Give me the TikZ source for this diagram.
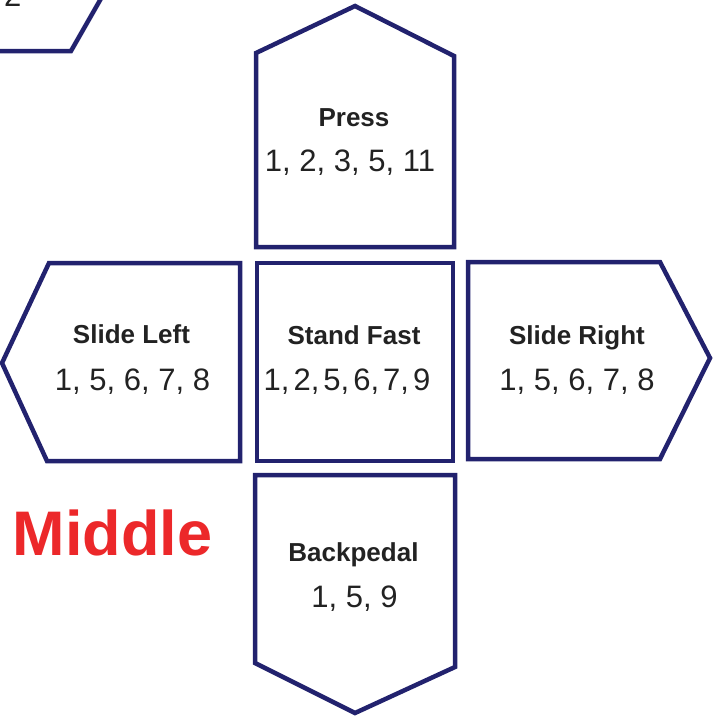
\documentclass[tikz,border=0pt]{standalone}
\usepackage{fontspec}
\setmainfont{Liberation Sans}
\definecolor{navy}{RGB}{34,34,110}
\definecolor{ink}{RGB}{34,34,34}
\definecolor{midred}{RGB}{236,40,42}
\tikzset{
  outline/.style={draw=navy, line width=4.5pt, line join=miter},
  titletext/.style={anchor=base, inner sep=0pt, text=ink, font=\fontsize{26}{30}\selectfont\bfseries},
  numtext/.style={anchor=base, inner sep=0pt, text=ink, font=\fontsize{31}{36}\selectfont},
}
\begin{document}
\begin{tikzpicture}[x=1pt,y=-1pt]
\useasboundingbox (0,0) rectangle (718,716);
% partial shape at top-left
\draw[outline] (-5,51) -- (71,51) -- (103,-5);
\node[numtext, anchor=base west] (cut) at (4,6) {2};
% Press
\draw[outline] (256,247) -- (256,53) -- (355,6) -- (454,56) -- (454,247) -- cycle;
\node[titletext] (presst) at (354,126) {Press};
\node[numtext] (pressn) at (350,171) {1, 2, 3, 5, 11};
% Slide Left
\draw[outline] (240,263) -- (49,263) -- (2,363) -- (47,461) -- (240,461) -- cycle;
\node[titletext] (leftt) at (131.5,343) {Slide Left};
\node[numtext] (leftn) at (132.5,390) {1, 5, 6, 7, 8};
% Stand Fast
\draw[outline] (257,263) rectangle (453,461);
\node[titletext] (standt) at (354,344) {Stand Fast};
\node[numtext] (standn) at (347,390) {1,\hspace{0.13em}2,\hspace{0.13em}5,\hspace{0.13em}6,\hspace{0.13em}7,\hspace{0.13em}9};
% Slide Right
\draw[outline] (468,262) -- (660,262) -- (710,358) -- (660,459) -- (468,459) -- cycle;
\node[titletext] (rightt) at (577,344) {Slide Right};
\node[numtext] (rightn) at (577,390) {1, 5, 6, 7, 8};
% Backpedal
\draw[outline] (255,475) -- (455,475) -- (455,667) -- (355,713) -- (255,663) -- cycle;
\node[titletext] (backt) at (353.5,561.5) {Backpedal};
\node[numtext] (backn) at (354.5,607) {1, 5, 9};
% Middle
\node[anchor=base west, inner sep=0pt, text=midred, font=\fontsize{63}{70}\selectfont\bfseries] (middle) at (12.5,555) {Middle};
\end{tikzpicture}
\end{document}
